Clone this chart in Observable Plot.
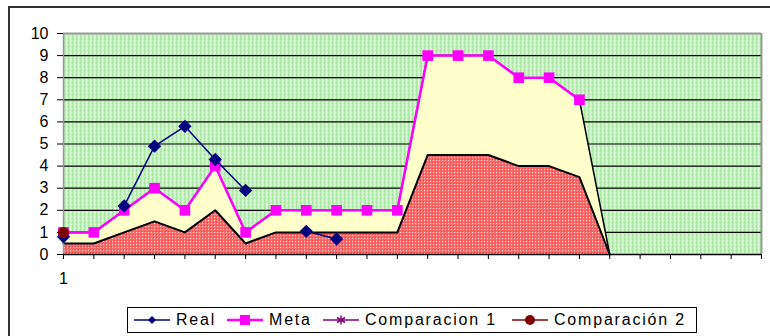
<!DOCTYPE html>
<html><head><meta charset="utf-8">
<script src="https://cdn.jsdelivr.net/npm/d3@7"></script>
<script src="https://cdn.jsdelivr.net/npm/@observablehq/plot@0.6"></script>
<style>
body{margin:0;background:#fff;font-family:Arial,"Liberation Sans",sans-serif;}
#wrap{position:relative;width:770px;height:336px;overflow:hidden;background:#fff;}
#frame{position:absolute;left:8px;top:6px;width:790px;height:360px;border:2px solid #333;box-sizing:border-box;}
#chart{position:absolute;left:0;top:0;}
#legend{position:absolute;left:127px;top:307px;width:570px;height:26px;border:1px solid #000;box-sizing:border-box;background:#fff;font-size:16px;letter-spacing:1.8px;color:#000;}
.item{position:absolute;top:0;height:24px;display:flex;align-items:center;}
.item svg{display:block;margin-right:6px;}
</style></head>
<body>
<div id="wrap">
  <div id="frame"></div>
  <div id="chart"></div>
  <div id="legend"></div>
</div>
<script>
const categories = [1,2,3,4,5,6,7,8,9,10,11,12,13,14,15,16,17,18,19,20,21,22,23,24];
const xTickLabels = ["1","","","","","","","","","","","","","","","","","","","","","","",""];
const yTicks = [0,1,2,3,4,5,6,7,8,9,10];
const real = [0.8, null, 2.2, 4.9, 5.8, 4.3, 2.9, null, 1.05, 0.7];
const meta = [1,1,2,3,2,4,1,2,2,2,2,2,9,9,9,8,8,7];
const comparacion1 = [1,1,2,3,2,4,1,2,2,2,2,2,9,9,9,8,8,7,0];
const comparacion2 = [0.5,0.5,1,1.5,1,2,0.5,1,1,1,1,1,4.5,4.5,4.5,4,4,3.5,0];
const comparacion2Marker = [1];
const seriesNames = ["Real","Meta","Comparacion 1","Comparación 2"];

const rows = arr => arr.map((v,i)=>({x:categories[i], y:v}));

const plot = Plot.plot({
  width: 770, height: 300,
  marginLeft: 63, marginRight: 9, marginTop: 33, marginBottom: 46,
  x: {type:"linear", domain:[categories[0], categories[categories.length-1]], label:null},
  y: {domain:[0,10], label:null},
  style: {fontFamily: "Arial, 'Liberation Sans', sans-serif", fontSize: "16px", color:"#000", background:"transparent", overflow:"visible"},
  marks: [
    Plot.frame({fill:"url(#bgGreen)", stroke:null}),
    Plot.ruleY(yTicks.filter(t=>t>0 && t<10), {stroke:"#000", strokeWidth:1.2}),
    Plot.ruleY([10], {stroke:"#999", strokeWidth:2}),
    Plot.ruleX([categories[categories.length-1]], {stroke:"#999", strokeWidth:2}),
    Plot.areaY(rows(comparacion1), {x:"x", y:"y", fill:"#ffffcc"}),
    Plot.lineY(rows(comparacion1), {x:"x", y:"y", stroke:"#000", strokeWidth:1.5}),
    Plot.areaY(rows(comparacion2), {x:"x", y:"y", fill:"url(#redPat)"}),
    Plot.lineY(rows(comparacion2), {x:"x", y:"y", stroke:"#000", strokeWidth:2}),
    Plot.ruleX([categories[0]], {stroke:"#999", strokeWidth:1.5}),
    Plot.ruleY([0], {stroke:"#000", strokeWidth:1.5}),
    Plot.axisY({ticks: yTicks, tickSize:6, tickPadding:9, tickFormat:d=>String(d), fontSize:16, stroke:"#000", label:null}),
    Plot.axisX({ticks: categories, tickSize:5, tickPadding:13, tickFormat:d=>xTickLabels[categories.indexOf(d)], fontSize:16, label:null}),
    Plot.lineY(rows(meta), {x:"x", y:"y", stroke:"#ff00ff", strokeWidth:2.5}),
    Plot.dot(rows(meta), {x:"x", y:"y", symbol:"square", r:6, fill:"#ff00ff", stroke:null}),
    Plot.lineY(rows(real), {x:"x", y:"y", stroke:"#000080", strokeWidth:1.5}),
    Plot.dot(rows(real).filter(d=>d.y!=null), {x:"x", y:"y", symbol:"diamond2", r:6, fill:"#000080", stroke:null}),
    Plot.dot(rows(comparacion2Marker), {x:"x", y:"y", r:5.5, fill:"#800000", stroke:null})
  ]
});

// fill patterns
const ns = "http://www.w3.org/2000/svg";
const defs = document.createElementNS(ns, "defs");
defs.innerHTML = `
<pattern id="bgGreen" patternUnits="userSpaceOnUse" width="4" height="4">
  <rect width="4" height="4" fill="#c8f2c2"/>
  <rect x="0" y="0" width="1" height="4" fill="#a6e8a0"/>
  <rect x="2" y="0" width="1" height="4" fill="#e6fae4"/>
  <rect x="3" y="1" width="1" height="2" fill="#98e294"/>
</pattern>
<pattern id="redPat" patternUnits="userSpaceOnUse" width="3" height="3">
  <rect width="3" height="3" fill="#f76a6a"/>
  <rect x="1" y="1" width="1" height="1" fill="#ffd8d8"/>
  <rect x="0" y="0" width="1" height="1" fill="#ff4444"/>
</pattern>`;
plot.insertBefore(defs, plot.firstChild);
document.getElementById("chart").appendChild(plot);

// legend
const legend = document.getElementById("legend");
const legendItems = [
  {name: seriesNames[0], color:"#000080", sym:"diamond", left:6},
  {name: seriesNames[1], color:"#ff00ff", sym:"square", left:99},
  {name: seriesNames[2], color:"#800080", sym:"star", left:195},
  {name: seriesNames[3], color:"#800000", sym:"circle", left:384}
];
for (const it of legendItems) {
  const d = document.createElement("div");
  d.className = "item";
  d.style.left = it.left + "px";
  let m = "";
  if (it.sym==="diamond") m = `<path d="M18 8 L22 12 L18 16 L14 12 Z" fill="${it.color}"/>`;
  if (it.sym==="square") m = `<rect x="13" y="7" width="10" height="10" fill="${it.color}"/>`;
  if (it.sym==="star") m = `<g stroke="${it.color}" stroke-width="1.5"><line x1="18" y1="7.5" x2="18" y2="16.5"/><line x1="14" y1="9.5" x2="22" y2="14.5"/><line x1="14" y1="14.5" x2="22" y2="9.5"/></g>`;
  if (it.sym==="circle") m = `<circle cx="18" cy="12" r="5" fill="${it.color}"/>`;
  d.innerHTML = `<svg width="36" height="24"><line x1="0" y1="12" x2="36" y2="12" stroke="${it.color}" stroke-width="${it.sym==='square'?2.5:1.5}"/>${m}</svg><span>${it.name}</span>`;
  legend.appendChild(d);
}
</script>
</body></html>
